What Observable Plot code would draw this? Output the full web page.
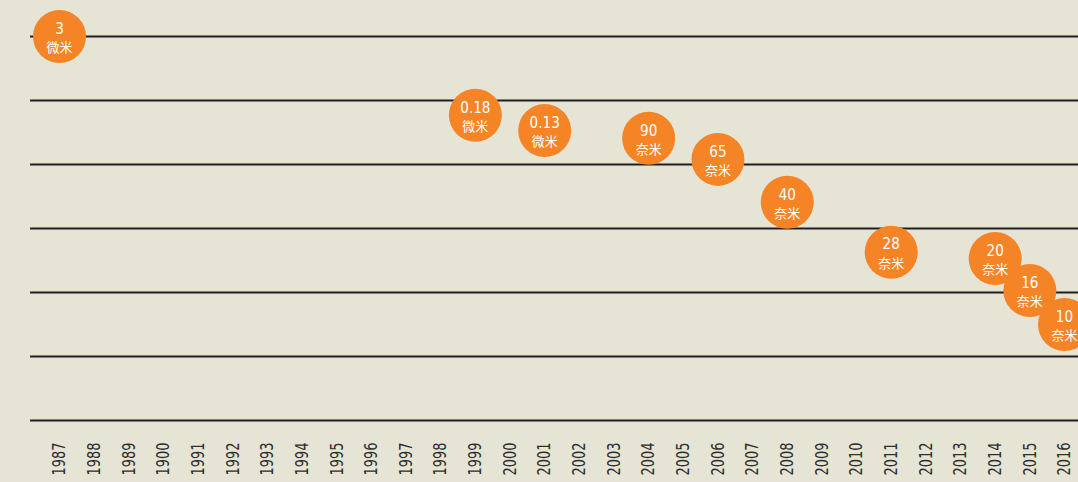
<!DOCTYPE html>
<html>
<head>
<meta charset="utf-8">
<script src="https://cdn.jsdelivr.net/npm/d3@7"></script>
<script src="https://cdn.jsdelivr.net/npm/@observablehq/plot@0.6"></script>
<style>
  html, body { margin: 0; padding: 0; background: #e6e4d4; }
  #chart { width: 1078px; height: 482px; overflow: hidden; }
</style>
</head>
<body>
<div id="chart"></div>
<script>
// Axis categories (as printed in the original, including its "1900")
const yearLabels = ["1987","1988","1989","1900","1991","1992","1993","1994","1995","1996","1997","1998","1999","2000","2001","2002","2003","2004","2005","2006","2007","2008","2009","2010","2011","2012","2013","2014","2015","2016"];
// Process nodes
const nodeYears = ["1987","1999","2001","2004","2006","2008","2011","2014","2015","2016"];
const nodeValues = ["3","0.18","0.13","90","65","40","28","20","16","10"];
const nodeUnits = ["微米","微米","微米","奈米","奈米","奈米","奈米","奈米","奈米","奈米"];
// Vertical level of each bubble in gridline units
const nodeLevels = [6.0, 4.77, 4.53, 4.41, 4.08, 3.41, 2.63, 2.53, 2.03, 1.5];
// Gridline levels
const gridLevels = [0, 1, 2, 3, 4, 5, 6];

const nodes = nodeYears.map((y, i) => ({year: y, value: nodeValues[i], unit: nodeUnits[i], level: nodeLevels[i]}));

const orange = "#f58426";
const numFont = "'DejaVu Sans Condensed', 'DejaVu Sans', sans-serif";
const cjkFont = "'Noto Sans CJK SC', 'Noto Sans CJK TC', sans-serif";

const chart = Plot.plot({
  width: 1078,
  height: 482,
  marginLeft: 30,
  marginRight: 0,
  marginTop: 0,
  marginBottom: 62,
  style: {background: "#e6e4d4", fontFamily: numFont},
  x: {type: "point", domain: yearLabels, range: [59, 1064], padding: 0, round: false},
  y: {domain: [0, 6], range: [420, 36]},
  marks: [
    Plot.ruleY(gridLevels, {stroke: "#231f20", strokeWidth: 2.2}),
    Plot.axisX({
      tickRotate: -90, tickSize: 0, tickPadding: 22, fontSize: 18,
      fill: "#2e2e2e", label: null, fontFamily: numFont, className: "xax"
    }),
    Plot.axisY({ticks: [], label: null, tickSize: 0}),
    Plot.dot(nodes, {x: "year", y: "level", r: 26.5, fill: orange, stroke: null}),
    Plot.text(nodes, {x: "year", y: "level", text: "value", dy: -8, fill: "#ffffff", fontSize: 16.5, fontFamily: numFont, className: "val"}),
    Plot.text(nodes, {x: "year", y: "level", text: "unit", dy: 11.5, fill: "#ffffff", fontSize: 13, fontFamily: cjkFont})
  ]
});
document.getElementById("chart").appendChild(chart);

// Condense numeric text horizontally (the original uses a condensed face)
const ctx = document.createElement("canvas").getContext("2d");
function probeWidth(size) {
  ctx.font = `${size}px ${numFont}`;
  return ctx.measureText("0000").width;
}
function safeScale(target, size, fallback) {
  const w = probeWidth(size);
  const s = target / w;
  return (isFinite(s) && s > 0.3 && s < 1.5) ? s : fallback;
}
function condense(texts, s) {
  texts.forEach(t => {
    const T = t.getAttribute("transform") || "";
    t.setAttribute("transform", `${T} scale(${s.toFixed(4)},1)`);
  });
}
const sAxis = safeScale(33, 18, 0.72);
const sVal = safeScale(34.5, 16.5, 0.82);
condense(Array.from(chart.querySelectorAll(".xax text")), sAxis);
condense(Array.from(chart.querySelectorAll(".val text")), sVal);
</script>
</body>
</html>
